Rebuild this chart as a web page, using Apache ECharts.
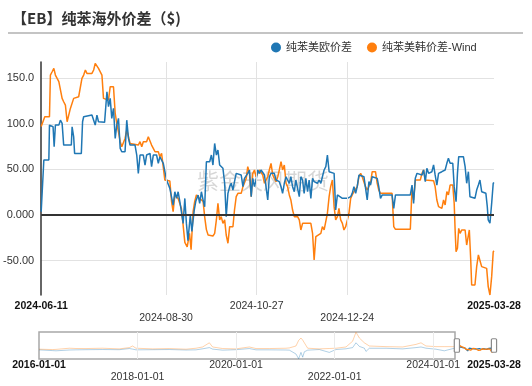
<!DOCTYPE html>
<html><head><meta charset="utf-8">
<script src="https://cdn.jsdelivr.net/npm/echarts@6/dist/echarts.min.js"></script>
<style>html,body{margin:0;padding:0;background:#fff}#c{width:532px;height:386px}</style>
</head><body><div id="c"></div>
<script>
const TITLE = '【EB】纯苯海外价差（$)';
const NAMES = ['纯苯美欧价差', '纯苯美韩价差-Wind'];
const COLORS = ['#1f77b4', '#ff7f0e'];
const WATERMARK = '紫金天风期货';
const WINDOW_START = '2024-06-11';
const WINDOW_END = '2025-03-28';
const mainTickLabels = ['2024-06-11', '2024-08-30', '2024-10-27', '2024-12-24', '2025-03-28'];
const miniTickLabels = ['2016-01-01', '2018-01-01', '2020-01-01', '2022-01-01', '2024-01-01'];
const miniEndLabels = ['2025-03-28'];

// history (thumbnail), read from the overview strip
const histDates = ['2016-01-01','2016-04-11','2016-05-06','2016-08-13','2016-10-01','2016-12-14','2017-04-17','2017-08-18','2017-11-01','2017-11-25',
  '2017-12-20','2018-04-23','2018-08-24','2018-12-26','2019-03-10','2019-04-28','2019-06-17','2019-07-11','2019-09-23','2019-12-31',
  '2020-04-08','2020-05-28','2020-09-04','2021-01-05','2021-01-30','2021-03-20','2021-04-09','2021-04-26','2021-05-09','2021-05-21',
  '2021-06-15','2021-09-09','2021-11-22','2022-01-11','2022-03-26','2022-05-14','2022-06-08','2022-07-03','2022-08-09','2022-08-21',
  '2022-09-15','2023-01-17','2023-05-20','2023-08-27','2023-10-03','2023-11-09','2024-01-22','2024-03-24','2024-06-06'];
const histEU = [5,-20,-27,0,5,10,16,10,48,30, 5,10,16,0,5,40,80,30,-5,10, 48,5,5,0,-5,-133,-293,-80,-240,-60, -5,16,-80,16,40,80,240,120,60,-48, 58,58,37,80,101,60,27,-27,58];
const histKR = [27,15,20,59,50,48,59,37,80,133, 59,37,48,27,59,101,240,101,48,37, 101,48,48,59,70,133,320,400,330,240, 59,37,50,59,101,293,592,400,240,180, 133,112,101,187,240,133,112,112,112];

// visible window: day offsets from 2024-06-11 and values
const euDay = [0,1.7,4.9,5.3,7.6,8.3,9.1,11.3,12.3,13.4,
  14.4,19.3,19.8,20.8,21.4,25.7,26.5,27.2,32.5,33.6,
  34.6,35.7,36.7,40.6,42.1,43.1,44.2,45.2,46.3,47.4,
  48.4,49.5,50.6,51.6,53.7,54.8,55.9,56.9,60.1,61.2,
  62.2,63.3,65.4,66.5,67.5,69.7,70.7,71.8,73.9,75,
  76,77.1,78.2,79.2,80.3,82.4,83.5,84.5,85.6,86.7,
  87.7,88.8,89.8,90.9,92,93,94,95.5,96.5,98,
  99,100.5,101.5,102.6,103.7,104.7,105.8,106.8,107.9,109,
  110,111.1,112.2,113.2,114.3,115.3,116.4,117.5,118.5,119.6,
  120.7,121.7,122.8,123.8,124.9,126,128.1,129.2,130.2,131.3,
  132.3,133.4,134.5,135.5,136.6,137.6,138.7,139.8,140.8,141.9,
  143,144,145.1,146.1,147.2,148.3,149.3,150.4,151.5,152.5,
  153.6,154.6,155.7,156.8,157.8,158.9,159.9,161,162.1,163.1,
  164.2,165.3,166.3,167.4,168.4,169.5,170.6,171.6,172.7,173.8,
  174.8,176.9,178,179.1,180.1,181.2,182.3,183.3,184.4,187.6,
  188.6,189.7,192.9,196.1,198.2,199.2,200.3,201.4,202.4,203.5,
  204.6,206.7,207.7,208.8,209.9,210.9,212,213,215.2,216.2,
  217.3,218.4,224.7,225.8,226.9,236.4,237.5,238.5,239.6,240.7,
  241.7,243.9,244.9,246,247,248.1,250.2,251.3,252.3,253.4,
  254.5,256.6,257.7,258.7,259.8,260.8,261.9,263.6,264.5,265.7,
  266.6,267.4,270.4,271.5,272.5,273.6,274.6,275.7,277.8,278.9,
  280,281,282.1,284.8,285.7,286.3,287.4,288.5,289.5,290];
const euVal = [3.6,60.3,60.3,98.6,96.8,74.9,98.6,98.6,104,100.5,
  76.7,76.7,96.8,85.8,67.6,67.6,102.3,107.8,109.6,109.6,
  98.6,109.6,102.3,101.6,135.2,118.8,127.9,106,117,84,
  98.6,106,73.1,69.4,69.4,104,84,76.7,76.7,65.8,
  45.6,65.8,65.8,54.8,65.8,67.6,53,65.8,65.8,56.6,
  63.9,65.8,56.6,58.4,38.3,29.2,27.4,10.9,25.5,18.2,
  25.5,14.6,3.6,-9.2,18.2,-9.2,-28,0,-18,5,
  15,21.9,12.8,25.5,16.4,9.1,58.4,60.3,58.4,65.8,
  54.8,78.5,65.8,71.3,54.8,54.8,51.2,34.8,-1.8,23.8,
  31.1,34.8,27.4,36.6,45.7,47.5,43.9,31.1,40.2,42,
  45.7,49.4,20.1,40.2,31.1,38.4,49.4,45.7,49.4,51.2,
  43.9,42,16.5,42,45.7,43.9,45.7,38.4,40.2,36.6,
  31.1,23.8,34.8,42,38.4,34.8,42,31.1,25.6,38.4,
  40.2,20.1,42,38.4,23.8,40.2,25.6,38.4,18.3,40.2,
  36.6,34.8,38.4,34.8,42,49.4,53,65.8,47.5,45.7,
  5.5,22,18.3,18.3,20.1,23.8,31.1,23.8,31.1,43.9,
  45.7,42,40.2,16.5,36.6,32.9,42,43.9,40.2,31.1,
  18.3,22,22,7.3,22,22,32.9,12.8,40.2,45.7,
  47.5,43.9,49.4,36.6,51.2,45.7,47.5,54.9,43.9,32.9,
  45.7,47.5,45.7,49.4,56.7,62.2,56.7,56.7,31.1,14.6,
  45.7,64,64,53,34.8,47.5,20.1,18.3,18.3,27.4,
  32.9,38.4,25.6,23.8,9.2,-5.4,-9,12.8,34.8,35.7];
const krDay = [0,2.3,5.3,5.9,7,8.1,9.1,10.2,11.3,12.3,
  13.4,14.4,15.5,16.6,17.6,18.7,19.8,20.8,24,25.1,
  26.1,27.2,28.3,29.3,32.5,33.6,34.6,35.7,36.7,38.9,
  39.9,43.1,44.2,46.3,47.4,48.4,49.5,50.6,51.6,52.7,
  53.7,54.8,55.9,56.9,62.2,63.3,64.4,65.4,67.5,68.6,
  69.7,70.7,71.8,72.9,73.9,75,76,77.1,78.2,79.2,
  82.4,83.5,84.5,85.6,87.7,89.8,90.9,92,93.5,95,
  96,97.3,98.3,99.4,100.5,101.5,102.6,103.7,104.7,105.8,
  106.9,110,111.1,112.2,113.2,114.3,115.3,116.4,117.5,118.5,
  119.6,120.7,122.8,123.8,124.9,126,127,128.1,129.2,130.2,
  131.3,132.3,133.4,134.5,135.5,136.6,137.6,138.7,139.8,140.8,
  141.9,143,144,145.1,146.1,147.2,148.3,149.3,150.4,151.5,
  152.5,153.6,154.6,155.7,156.8,157.8,158.9,159.9,161,162.1,
  163.1,164.2,165.3,166.3,167.4,172.7,173.8,174.8,175.9,176.9,
  179.1,180.1,181.2,182.3,183.3,184.4,185.4,186.5,187.6,188.6,
  189.7,190.7,191.8,192.9,193.9,195,196.1,197.1,198.2,199.2,
  200.3,202.4,203.5,204.6,205.6,206.7,207.7,208.8,210.9,212,
  214.1,215.2,216.2,217.3,224.7,225.8,226.9,236.4,237.5,238.5,
  239.6,240.7,242.8,243.9,244.9,246,251.3,252.3,253.4,254.5,
  255.5,256.6,257.7,258.7,259.8,260.8,261.9,263.6,264.5,265.1,
  265.7,266.6,267.4,268.3,269.3,271.5,272.5,273.6,274.2,275.1,
  275.7,277.8,278.9,280,281,282.1,285.3,286.3,287.4,288.5,
  289.5,290];
const krVal = [97,107.8,107.8,153.5,157.1,160.8,153.5,149.8,146.2,144.3,
  127.9,124.2,120.6,102.3,102.3,116.9,116.9,127.9,129.7,131.5,
  149.8,153.5,159,155.3,155.3,159,166.3,166.3,160.8,153.5,
  127.9,126,140.7,140.7,111.4,100.5,91.3,80.4,74.9,73.1,
  84,93.2,85.8,78.5,76.7,80.4,74.9,80.4,80.4,85.8,
  87.7,76.7,73.1,69.4,67.6,69.4,63.9,67.6,65.8,38.3,
  37.2,14.6,3.6,21.9,18.2,7.3,-11,-30,-35,-20,
  -38,3.6,14.6,21.9,23.7,18.2,20,15,-2,-16,
  -21.9,-23,-20.1,-5.4,12.8,-5.4,-1.8,-9.1,-5.4,-21.9,
  -31,-12.8,-12.8,5.5,20.1,23.8,22,23.8,31.1,29.3,
  40.2,53,45.7,20.1,45.7,49.4,42,45.7,49.4,47.5,
  43.9,34.8,36.6,42,49.4,56.7,43.9,40.2,36.6,42,
  49.4,58.5,49.4,54.9,34.8,31.1,22,16.5,5.5,-1.8,
  -3.6,-1.8,-5.4,-16.4,-9.1,-9.1,-20.1,-49.3,-23.7,-21.9,
  -20.1,-12.8,-16.4,-14.6,1.9,20.1,31.1,38.4,9.2,-5.4,
  -1.8,7.3,-5.4,-9.1,-16.4,-12.8,-5.4,1.9,18.3,22,
  25.6,31.1,42,45.7,42,43.9,31.1,27.4,34.8,47.5,
  47.5,34.8,27.4,23.8,23.8,-12.8,-15.7,-15.7,29.3,16.5,
  38.4,39.1,38.4,45.7,49.4,38.4,37.7,31.1,16.5,9.2,
  7.3,7.3,16.5,11,25.6,22,32.9,32.9,12.8,-16.4,
  -40.2,-36.5,-14.6,-20.1,-16.4,-16.4,-32.9,-34.7,-16.4,-49.3,
  -76.7,-76.7,-56.6,-43.8,-43.8,-56.6,-58.5,-78.5,-87.7,-67.6,
  -40.2,-39.3];

const yMin = -87.7, yMax = 167.8;
const miniMin = -300, miniMax = 600;

const DAY = 86400000;
function ts(s) { const p = s.split('-').map(Number); return new Date(p[0], p[1] - 1, p[2]).getTime(); }
const w0 = ts(WINDOW_START), w1 = ts(WINDOW_END);
const euWin = euDay.map((d, i) => [w0 + d * DAY, euVal[i]]);
const krWin = krDay.map((d, i) => [w0 + d * DAY, krVal[i]]);
const euHist = histDates.map((s, i) => [ts(s), histEU[i]]);
const krHist = histDates.map((s, i) => [ts(s), histKR[i]]);
const euLast = euVal[euVal.length - 1], krLast = krVal[krVal.length - 1];

const FONT = '"Liberation Sans", Arial, "Noto Sans CJK SC", sans-serif';
function labelFmt(list, boldIdx, stagger) {
  const t = list.map(ts);
  return function (v) {
    const i = t.findIndex(x => Math.abs(x - v) < DAY / 2);
    if (i < 0) return '';
    const s = list[i];
    if (boldIdx.indexOf(i) >= 0) return '{b|' + s + '}';
    if (stagger && i % 2 === 1) return '\n' + s;
    return s;
  };
}
const richB = { b: { fontWeight: 'bold', color: '#111', fontSize: 10.5, lineHeight: 12, fontFamily: FONT } };
function vLines(list, color) {
  return list.map(s => ({ xAxis: ts(s), lineStyle: { color: color, width: 1, type: 'solid' } }));
}
function lastLabel(v, color) {
  return { yAxis: v, lineStyle: { opacity: 0 }, label: { show: true, position: 'start', distance: 5, offset: [0, -4], formatter: v.toFixed(2),
    color: '#fff', backgroundColor: color, padding: [1, 2], fontSize: 11, fontFamily: FONT } };
}

const chart = echarts.init(document.getElementById('c'), null, { renderer: 'canvas' });
chart.setOption({
  animation: false,
  backgroundColor: '#fff',
  title: { text: TITLE, left: 7, top: 6, textStyle: { fontSize: 15, fontWeight: 'bold', color: '#333', fontFamily: '"Noto Sans CJK SC", sans-serif' } },
  legend: {
    data: NAMES, left: 271, top: 42, icon: 'circle', itemWidth: 10, itemHeight: 10, itemGap: 15, padding: 0,
    textStyle: { fontSize: 11, color: '#333', fontFamily: FONT }
  },
  graphic: [
    { type: 'line', shape: { x1: 8, y1: 33, x2: 523, y2: 33 }, style: { stroke: '#b0b0b0', lineWidth: 1.5 }, silent: true },
    { type: 'text', left: 197, top: 170, z: -1, silent: true,
      style: { text: WATERMARK, font: '22px "Noto Sans CJK SC"', fill: 'rgba(0,0,0,0.16)' } }
  ],
  grid: [
    { left: 39, right: 38, top: 62, bottom: 91 },
    { left: 39, right: 77, top: 332, height: 27, show: true, borderColor: '#a8a8a8', borderWidth: 1.5, backgroundColor: 'transparent' },
    { left: 455, right: 38, top: 332, height: 27 }
  ],
  xAxis: [
    { type: 'value', scale: true, gridIndex: 0, max: w1,
      axisLine: { show: false }, axisTick: { show: false }, splitLine: { show: false },
      axisLabel: { customValues: mainTickLabels.map(ts), formatter: labelFmt(mainTickLabels, [0, mainTickLabels.length - 1], true),
        rich: richB, fontSize: 10.5, lineHeight: 12, color: '#333', margin: 5, hideOverlap: false, fontFamily: FONT } },
    { type: 'value', scale: true, gridIndex: 1, min: ts(miniTickLabels[0]), max: w0,
      axisLine: { show: false }, axisTick: { show: false }, splitLine: { show: false },
      axisLabel: { customValues: miniTickLabels.map(ts), formatter: labelFmt(miniTickLabels, [0], true),
        rich: richB, fontSize: 10.5, lineHeight: 12, color: '#333', margin: 0, hideOverlap: false, fontFamily: FONT } },
    { type: 'value', scale: true, gridIndex: 2, min: w0, max: w1,
      axisLine: { show: false }, axisTick: { show: false }, splitLine: { show: false },
      axisLabel: { customValues: miniEndLabels.map(ts), formatter: labelFmt(miniEndLabels, [0], false),
        rich: richB, fontSize: 10.5, lineHeight: 12, color: '#333', margin: 0, hideOverlap: false, fontFamily: FONT } }
  ],
  yAxis: [
    { type: 'value', gridIndex: 0, min: yMin, max: yMax,
      axisLine: { show: true, lineStyle: { color: '#333', width: 1.5 } }, axisTick: { show: false },
      axisLabel: { formatter: v => v.toPrecision(4), showMinLabel: false, showMaxLabel: false, fontSize: 11, color: '#333', margin: 7, fontFamily: FONT },
      splitLine: { show: true, showMinLine: false, showMaxLine: false, lineStyle: { color: '#e2e2e2' } } },
    { type: 'value', gridIndex: 1, min: miniMin, max: miniMax, show: false },
    { type: 'value', gridIndex: 2, min: miniMin, max: miniMax, show: false }
  ],
  dataZoom: [{
    type: 'slider', xAxisIndex: 0, filterMode: 'filter',
    startValue: w0, endValue: w1,
    left: 39, right: 38, top: 332, height: 27,
    showDataShadow: false, showDetail: false, brushSelect: false, moveHandleSize: 0,
    backgroundColor: 'transparent', borderColor: 'transparent', fillerColor: 'transparent',
    handleIcon: 'path://M2,0 H8 A2,2 0 0 1 10,2 V24 A2,2 0 0 1 8,26 H2 A2,2 0 0 1 0,24 V2 A2,2 0 0 1 2,0 Z',
    handleSize: '50%', handleStyle: { color: '#fff', borderColor: '#8a8a8a', borderWidth: 1.2 },
    dataBackground: { lineStyle: { opacity: 0 }, areaStyle: { opacity: 0 } },
    selectedDataBackground: { lineStyle: { opacity: 0 }, areaStyle: { opacity: 0 } }
  }],
  series: [
    { name: NAMES[1], type: 'line', xAxisIndex: 0, yAxisIndex: 0, data: krHist.concat(krWin), showSymbol: false,
      lineStyle: { width: 1.5, color: COLORS[1] }, itemStyle: { color: COLORS[1] }, z: 2,
      markLine: { silent: true, symbol: 'none', animation: false, label: { show: false },
        data: vLines(mainTickLabels.slice(1, -1), '#e2e2e2').concat([lastLabel(krLast, COLORS[1])]) } },
    { name: NAMES[0], type: 'line', xAxisIndex: 0, yAxisIndex: 0, data: euHist.concat(euWin), showSymbol: false,
      lineStyle: { width: 1.5, color: COLORS[0] }, itemStyle: { color: COLORS[0] }, z: 3,
      markLine: { silent: true, symbol: 'none', animation: false, data: [
        { yAxis: 0, lineStyle: { color: '#333', width: 2, type: 'solid' }, label: { show: false } },
        lastLabel(euLast, COLORS[0])
      ] } },
    { name: 'mini-eu-hist', type: 'line', xAxisIndex: 1, yAxisIndex: 1, data: euHist.concat([euWin[0]]), showSymbol: false, silent: true,
      lineStyle: { width: 1, color: COLORS[0], opacity: 0.35 },
      markLine: { silent: true, symbol: 'none', animation: false, label: { show: false },
        data: vLines(miniTickLabels.slice(1), '#eaeaea') } },
    { name: 'mini-kr-hist', type: 'line', xAxisIndex: 1, yAxisIndex: 1, data: krHist.concat([krWin[0]]), showSymbol: false, silent: true,
      lineStyle: { width: 1, color: COLORS[1], opacity: 0.35 } },
    { name: 'mini-eu-win', type: 'line', xAxisIndex: 2, yAxisIndex: 2, data: euWin, showSymbol: false, silent: true,
      lineStyle: { width: 1.3, color: COLORS[0] } },
    { name: 'mini-kr-win', type: 'line', xAxisIndex: 2, yAxisIndex: 2, data: krWin, showSymbol: false, silent: true,
      lineStyle: { width: 1.3, color: COLORS[1] } }
  ]
});
</script></body></html>
